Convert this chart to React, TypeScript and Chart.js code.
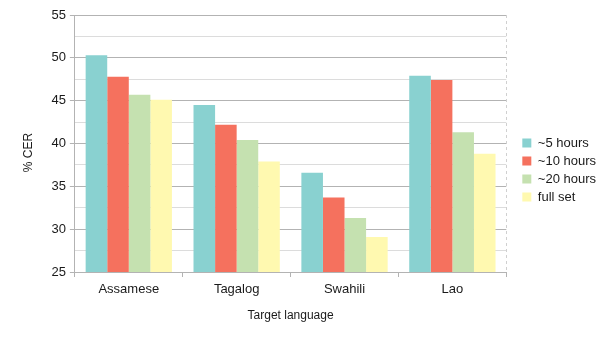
import React, { useEffect, useRef } from "react";
import { Chart, registerables } from "chart.js";

Chart.register(...registerables);

const categories = ["Assamese", "Tagalog", "Swahili", "Lao"];
const seriesNames = ["~5 hours", "~10 hours", "~20 hours", "full set"];
const hours5 = [50.3, 44.5, 36.6, 47.9];
const hours10 = [47.8, 42.2, 33.7, 47.4];
const hours20 = [45.7, 40.4, 31.3, 41.3];
const fullSet = [45.1, 37.9, 29.1, 38.8];
const colors = ["#89d1d0", "#f5715e", "#c5e1b0", "#fff9b0"];

const FONT = "'Liberation Sans', Arial, sans-serif";
const TEXT = "#1a1a1a";

const LEGEND_SHIFT_X = 11;
const LEGEND_SHIFT_Y = 1;
const YTITLE_SHIFT = 9;

const decor = {
  id: "decor",
  afterInit(chart: any) {
    const lg = chart.legend;
    if (lg && !lg.__patched) {
      const orig = lg.fit;
      lg.fit = function () {
        orig.call(this);
        this.width += LEGEND_SHIFT_X;
      };
      lg.__patched = true;
    }
  },
  afterLayout(chart: any) {
    const lg = chart.legend;
    if (lg) {
      lg.left += LEGEND_SHIFT_X;
      lg.top += LEGEND_SHIFT_Y;
      lg.bottom += LEGEND_SHIFT_Y;
    }
    const s = chart.scales && chart.scales.y;
    if (s && !s.__patched) {
      const o = s.drawTitle;
      s.drawTitle = function (...args: any[]) {
        const c = this.ctx;
        c.save();
        c.translate(0, YTITLE_SHIFT);
        o.apply(this, args);
        c.restore();
      };
      s.__patched = true;
    }
  },
  afterDraw(chart: any) {
    const { ctx, chartArea } = chart;
    ctx.save();
    ctx.strokeStyle = "#d0d0d0";
    ctx.lineWidth = 1;
    ctx.setLineDash([3, 3]);
    ctx.beginPath();
    ctx.moveTo(Math.round(chartArea.right) + 0.5, chartArea.top);
    ctx.lineTo(Math.round(chartArea.right) + 0.5, chartArea.bottom);
    ctx.stroke();
    ctx.restore();
  },
};

export default function App() {
  const ref = useRef<HTMLCanvasElement>(null);
  useEffect(() => {
    if (!ref.current) return;
    const values = [hours5, hours10, hours20, fullSet];
    const chart = new Chart(ref.current, {
      type: "bar",
      data: {
        labels: categories,
        datasets: values.map((v, i) => ({
          label: seriesNames[i],
          data: v,
          backgroundColor: colors[i],
          borderWidth: 0,
          categoryPercentage: 0.8,
          barPercentage: 1.0,
        })),
      },
      options: {
        animation: false,
        responsive: false,
        maintainAspectRatio: false,
        layout: { padding: { left: 21, right: -1, top: 15, bottom: 17 } },
        plugins: {
          tooltip: { enabled: false },
          legend: {
            position: "right",
            labels: {
              boxWidth: 9,
              boxHeight: 9,
              padding: 5,
              font: { family: FONT, size: 13 },
              color: TEXT,
            },
          },
        },
        scales: {
          x: {
            grid: {
              display: true,
              drawOnChartArea: false,
              offset: true,
              color: "#b3b3b3",
              tickLength: 5,
            },
            border: { color: "#b3b3b3" },
            ticks: { font: { family: FONT, size: 13 }, color: TEXT, padding: 5 },
            title: {
              display: true,
              text: "Target language",
              font: { family: FONT, size: 12 },
              color: TEXT,
              padding: { top: 6, bottom: 0 },
            },
          },
          y: {
            min: 25,
            max: 55,
            ticks: {
              stepSize: 2.5,
              font: { family: FONT, size: 13 },
              color: TEXT,
              padding: 4,
              callback: (v: any) => (Number(v) % 5 === 0 ? String(v) : ""),
            },
            grid: {
              color: (c: any) => (c.tick && c.tick.value % 5 === 0 ? "#b3b3b3" : "#dcdcdc"),
              tickColor: (c: any) => (c.tick && c.tick.value % 5 === 0 ? "#b3b3b3" : "rgba(0,0,0,0)"),
              tickLength: 5,
            },
            border: { color: "#b3b3b3" },
            title: {
              display: true,
              text: "% CER",
              font: { family: FONT, size: 12 },
              color: TEXT,
              padding: { top: 0, bottom: 12 },
            },
          },
        },
      },
      plugins: [decor],
    });
    return () => chart.destroy();
  }, []);
  return (
    <div style={{ position: "fixed", left: 0, top: 0, width: 605, height: 340, background: "#fff" }}>
      <canvas ref={ref} width={605} height={340} />
    </div>
  );
}
